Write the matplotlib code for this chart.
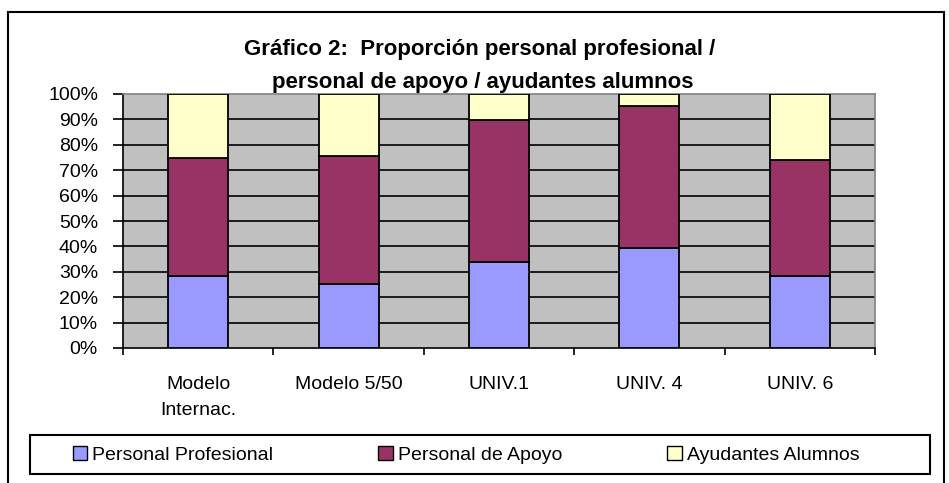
import numpy as np
import matplotlib
matplotlib.use("Agg")
import matplotlib.pyplot as plt
from matplotlib.patches import Patch, Rectangle

plt.rcParams['font.family'] = ['Liberation Sans', 'DejaVu Sans']

# datos (porcentajes)
categorias = ["Modelo\nInternac.", "Modelo 5/50", "UNIV.1", "UNIV. 4", "UNIV. 6"]
profesional = [28.4, 25.2, 33.8, 39.5, 28.3]
apoyo = [46.5, 50.4, 56.0, 55.8, 45.7]
ayudantes = [25.1, 24.4, 10.2, 4.7, 26.0]
series = ["Personal Profesional", "Personal de Apoyo", "Ayudantes Alumnos"]
colores = ["#9999FF", "#993366", "#FFFFCC"]

W, H = 949, 483
fig = plt.figure(figsize=(W / 100, H / 100), dpi=100)
ax = fig.add_axes([123 / W, 1 - 348 / H, (875 - 123) / W, (348 - 94) / H])
ax.set_facecolor("#C0C0C0")

x = np.arange(len(categorias))
abajo = np.zeros(len(categorias))
for vals, col in zip([profesional, apoyo, ayudantes], colores):
    ax.bar(x, vals, bottom=abajo, width=0.4, color=col, edgecolor="black",
           linewidth=1.3, zorder=3)
    abajo = abajo + np.array(vals)

# lineas de la grilla
for v in range(10, 100, 10):
    ax.axhline(v, color="black", lw=1.2, zorder=1)

ax.set_xlim(-0.5, len(categorias) - 0.5)
ax.set_ylim(0, 100)
ax.set_yticks(range(0, 101, 10))
ax.set_yticklabels([f"{v}%" for v in range(0, 101, 10)], fontsize=14)
ax.set_xticks(np.arange(-0.5, len(categorias), 1))
ax.set_xticklabels([])
ax.set_xticks(x, minor=True)
ax.set_xticklabels(categorias, minor=True, fontsize=14, linespacing=1.7)
ax.tick_params(axis="x", which="major", direction="out", length=5, width=1.2)
ax.tick_params(axis="x", which="minor", length=0, pad=20)
ax.tick_params(axis="y", direction="out", length=7, width=1.2, pad=11)
for lado in ["top", "right"]:
    ax.spines[lado].set_color("#808080")
    ax.spines[lado].set_linewidth(1.2)
for lado in ["left", "bottom"]:
    ax.spines[lado].set_color("black")
    ax.spines[lado].set_linewidth(1.2)

fig.text(480 / W, 1 - 55 / H, "Gráfico 2:  Proporción personal profesional /",
         ha="center", va="baseline", fontsize=16, fontweight="bold")
fig.text(483 / W, 1 - 88 / H, "personal de apoyo / ayudantes alumnos",
         ha="center", va="baseline", fontsize=16, fontweight="bold")

# borde exterior
fig.patches.append(Rectangle((8 / W, -0.05), (944 - 8) / W, 1.05 - 12 / H,
                             transform=fig.transFigure, fill=False,
                             edgecolor="black", lw=1.5))

# marco de la leyenda
fig.patches.append(Rectangle((30 / W, 1 - 474 / H), (930 - 30) / W, 39 / H,
                             transform=fig.transFigure, fill=False,
                             edgecolor="black", lw=1.5))
handles = [Patch(facecolor=c, edgecolor="black", lw=1) for c in colores]
leg = fig.legend(handles, series, loc="center", ncol=3,
                 bbox_to_anchor=(466 / W, 1 - 455 / H),
                 fontsize=14, frameon=False, borderaxespad=0,
                 handlelength=0.75, handleheight=0.75, handletextpad=0.25,
                 columnspacing=5.4)

fig.savefig("out.png", dpi=100)
